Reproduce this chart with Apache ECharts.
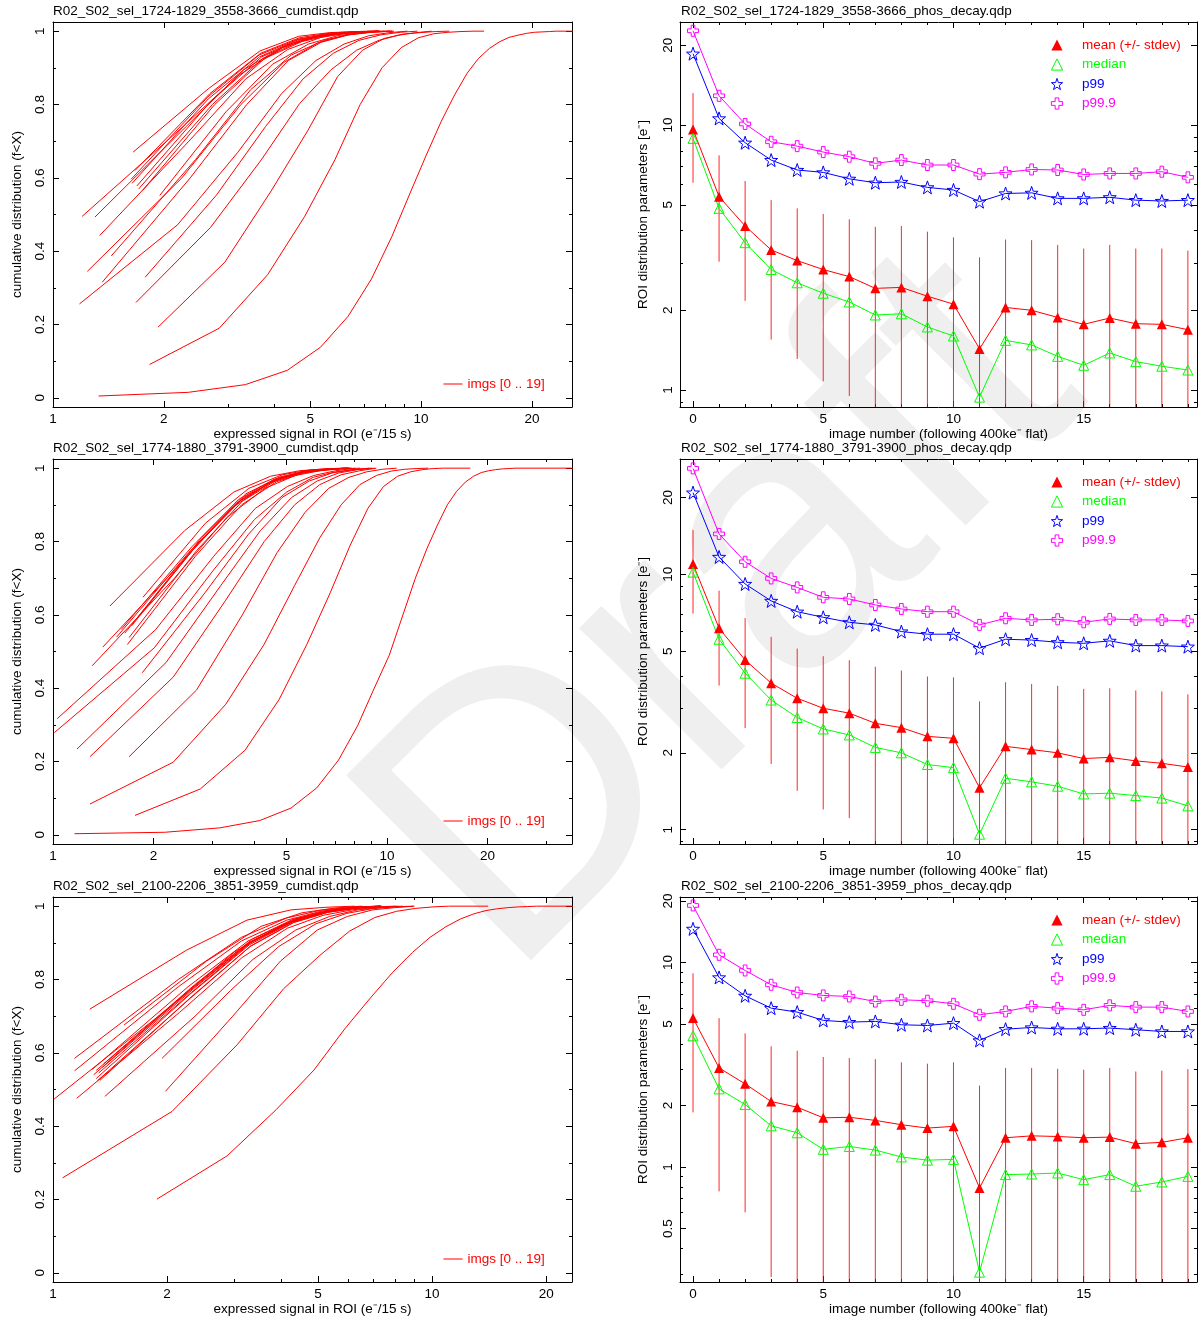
<!DOCTYPE html>
<html><head><meta charset="utf-8">
<script src="https://cdn.jsdelivr.net/npm/echarts@6/dist/echarts.min.js"></script>
<style>html,body{margin:0;padding:0;background:#fff}#c{width:1198px;height:1318px}</style>
</head><body><div id="c"></div>
<script>
// ---------------- titles / labels ----------------
const cumTitles = ['R02_S02_sel_1724-1829_3558-3666_cumdist.qdp','R02_S02_sel_1774-1880_3791-3900_cumdist.qdp','R02_S02_sel_2100-2206_3851-3959_cumdist.qdp'];
const decayTitles = ['R02_S02_sel_1724-1829_3558-3666_phos_decay.qdp','R02_S02_sel_1774-1880_3791-3900_phos_decay.qdp','R02_S02_sel_2100-2206_3851-3959_phos_decay.qdp'];
const cumLegendName = 'imgs [0 .. 19]';
const decayNames = ['mean (+/- stdev)','median','p99','p99.9'];

// ---------------- tick values ----------------
const cumXMajor = [1,2,5,10,20];
const cumXMinor = [3,4,6,7,8,9,30];
const cumYMajor = [0,0.2,0.4,0.6,0.8,1];
const cumYMinor = [0.1,0.3,0.5,0.7,0.9];
const decXMajor = [0,5,10,15];
const decXMinor = [1,2,3,4,6,7,8,9,11,12,13,14,16,17,18,19];
const decYMajor = [0.5,1,2,5,10,20];
const decYMinor = [0.3,0.4,0.6,0.7,0.8,0.9,3,4,6,7,8,9,30];

// ---------------- cumulative distributions (signal, fraction) ----------------
const cumCurvesA = [
 [[1.33,0.005],[2.33,0.015],[3.33,0.036],[4.33,0.075],[5.33,0.138],[6.33,0.222],[7.33,0.324],[8.33,0.44],[9.33,0.558],[10.33,0.662],[11.33,0.753],[12.33,0.826],[13.33,0.885],[14.33,0.926],[15.33,0.953],[16.33,0.971],[17.33,0.983],[18.33,0.989],[19.33,0.994],[20.33,0.997],[21.33,0.998],[22.33,0.999],[23.33,1],[26.33,1]],
 [[1.83,0.091],[2.83,0.19],[3.83,0.336],[4.83,0.495],[5.83,0.649],[6.83,0.80],[7.83,0.90],[8.83,0.955],[9.83,0.982],[10.83,0.993],[11.83,0.997],[12.83,0.999],[13.83,1],[14.83,1]],
 [[1.93,0.193],[2.93,0.37],[3.93,0.567],[4.93,0.73],[5.93,0.876],[6.93,0.948],[7.93,0.98],[8.93,0.992],[9.93,0.996],[10.93,0.999],[11.93,1]],
 [[1.68,0.26],[2.68,0.465],[3.68,0.649],[4.68,0.803],[5.68,0.894],[6.68,0.948],[7.68,0.975],[8.68,0.989],[9.68,0.996],[10.68,1]],
 [[1.18,0.256],[2.18,0.472],[3.18,0.67],[4.18,0.83],[5.18,0.92],[6.18,0.965],[7.18,0.987],[8.18,0.996],[9.18,1]],
 [[1.78,0.329],[2.78,0.553],[3.78,0.74],[4.78,0.87],[5.78,0.94],[6.78,0.975],[7.78,0.99],[8.78,0.997],[9.78,1]],
 [[1.36,0.315],[2.36,0.60],[3.36,0.80],[4.36,0.92],[5.36,0.97],[6.36,0.99],[7.36,0.997],[8.36,1]],
 [[1.24,0.345],[2.24,0.60],[3.24,0.80],[4.24,0.915],[5.24,0.968],[6.24,0.989],[7.24,0.997],[8.24,1]],
 [[1.44,0.387],[2.44,0.65],[3.44,0.84],[4.44,0.935],[5.44,0.975],[6.44,0.992],[7.44,0.998],[8.44,1]],
 [[1.34,0.443],[2.34,0.70],[3.34,0.87],[4.34,0.95],[5.34,0.983],[6.34,0.995],[7.34,0.999],[8.34,1]],
 [[1.20,0.495],[2.20,0.73],[3.20,0.88],[4.20,0.955],[5.20,0.985],[6.20,0.995],[7.20,0.999],[8.20,1]],
 [[1.30,0.493],[2.30,0.74],[3.30,0.895],[4.30,0.962],[5.30,0.988],[6.30,0.996],[7.30,1]],
 [[1.95,0.552],[2.95,0.78],[3.95,0.91],[4.95,0.965],[5.95,0.988],[6.95,0.996],[7.95,1]],
 [[1.75,0.565],[2.75,0.80],[3.75,0.925],[4.75,0.972],[5.75,0.99],[6.75,0.997],[7.75,1]],
 [[1.69,0.578],[2.69,0.81],[3.69,0.93],[4.69,0.976],[5.69,0.992],[6.69,0.998],[7.69,1]],
 [[1.63,0.596],[2.63,0.82],[3.63,0.935],[4.63,0.978],[5.63,0.993],[6.63,0.998],[7.63,1]],
 [[1.65,0.670],[2.65,0.844],[3.65,0.946],[4.65,0.986],[5.65,0.996],[6.65,0.999],[7.65,1]],
 [[1.64,0.585],[2.64,0.815],[3.64,0.93],[4.64,0.977],[5.64,0.992],[6.64,0.998],[7.64,1]],
 [[1.71,0.57],[2.71,0.80],[3.71,0.925],[4.71,0.974],[5.71,0.991],[6.71,0.997],[7.71,1]],
 [[1.67,0.62],[2.67,0.83],[3.67,0.94],[4.67,0.982],[5.67,0.995],[6.67,0.999],[7.67,1]]
];
const cumCurvesB = [
 [[1.16,0.003],[2.16,0.007],[3.16,0.019],[4.16,0.039],[5.16,0.073],[6.16,0.128],[7.16,0.204],[8.16,0.297],[9.16,0.40],[10.16,0.49],[11.16,0.60],[12.16,0.70],[13.16,0.78],[14.16,0.845],[15.16,0.90],[16.16,0.937],[17.16,0.962],[18.16,0.978],[19.16,0.988],[20.16,0.993],[21.16,0.996],[22.16,0.998],[23.16,0.999],[24.16,1],[36.16,1]],
 [[1.76,0.053],[2.76,0.125],[3.76,0.231],[4.76,0.37],[5.76,0.52],[6.76,0.66],[7.76,0.79],[8.76,0.89],[9.76,0.95],[10.76,0.978],[11.76,0.99],[12.76,0.996],[13.76,0.999],[14.76,1],[17.76,1]],
 [[1.29,0.084],[2.29,0.198],[3.29,0.356],[4.29,0.52],[5.29,0.68],[6.29,0.81],[7.29,0.90],[8.29,0.955],[9.29,0.98],[10.29,0.992],[11.29,0.997],[12.29,0.999],[13.29,1]],
 [[1.69,0.213],[2.69,0.395],[3.69,0.60],[4.69,0.77],[5.69,0.88],[6.69,0.945],[7.69,0.975],[8.69,0.99],[9.69,0.997],[10.69,1]],
 [[1.85,0.442],[2.85,0.66],[3.85,0.82],[4.85,0.92],[5.85,0.965],[6.85,0.987],[7.85,0.995],[8.85,1]],
 [[1.29,0.213],[2.29,0.43],[3.29,0.64],[4.29,0.80],[5.29,0.90],[6.29,0.955],[7.29,0.982],[8.29,0.993],[9.29,1]],
 [[1.18,0.234],[2.18,0.47],[3.18,0.68],[4.18,0.83],[5.18,0.92],[6.18,0.965],[7.18,0.987],[8.18,0.996],[9.18,1]],
 [[1.03,0.317],[2.03,0.56],[3.03,0.76],[4.03,0.89],[5.03,0.95],[6.03,0.98],[7.03,0.993],[8.03,1]],
 [[1.01,0.279],[2.01,0.51],[3.01,0.72],[4.01,0.86],[5.01,0.935],[6.01,0.975],[7.01,0.99],[8.01,0.997],[9.01,1]],
 [[1.31,0.461],[2.31,0.70],[3.31,0.865],[4.31,0.945],[5.31,0.98],[6.31,0.993],[7.31,0.998],[8.31,1]],
 [[1.41,0.512],[2.41,0.74],[3.41,0.89],[4.41,0.958],[5.41,0.985],[6.41,0.995],[7.41,1]],
 [[1.48,0.624],[2.48,0.83],[3.48,0.935],[4.48,0.978],[5.48,0.993],[6.48,0.998],[7.48,1]],
 [[1.86,0.648],[2.86,0.85],[3.86,0.945],[4.86,0.982],[5.86,0.995],[6.86,0.999],[7.86,1]],
 [[1.67,0.519],[2.67,0.76],[3.67,0.90],[4.67,0.963],[5.67,0.988],[6.67,0.996],[7.67,1]],
 [[1.69,0.538],[2.69,0.775],[3.69,0.91],[4.69,0.968],[5.69,0.99],[6.69,0.997],[7.69,1]],
 [[1.55,0.539],[2.55,0.77],[3.55,0.905],[4.55,0.965],[5.55,0.989],[6.55,0.997],[7.55,1]],
 [[1.60,0.56],[2.60,0.785],[3.60,0.915],[4.60,0.97],[5.60,0.99],[6.60,0.997],[7.60,1]],
 [[1.72,0.57],[2.72,0.795],[3.72,0.92],[4.72,0.972],[5.72,0.991],[6.72,0.998],[7.72,1]],
 [[1.64,0.55],[2.64,0.78],[3.64,0.912],[4.64,0.968],[5.64,0.99],[6.64,0.997],[7.64,1]],
 [[1.78,0.59],[2.78,0.81],[3.78,0.93],[4.78,0.976],[5.78,0.993],[6.78,0.998],[7.78,1]]
];
const cumCurvesC = [
 [[1.88,0.201],[2.88,0.319],[3.88,0.445],[4.88,0.553],[5.88,0.665],[6.88,0.75],[7.88,0.82],[8.88,0.874],[9.88,0.915],[10.88,0.944],[11.88,0.965],[12.88,0.979],[13.88,0.988],[14.88,0.993],[15.88,0.996],[16.88,0.998],[17.88,0.999],[18.88,1],[24.88,1]],
 [[1.06,0.259],[2.06,0.44],[3.06,0.622],[4.06,0.775],[5.06,0.866],[6.06,0.932],[7.06,0.969],[8.06,0.986],[9.06,0.994],[10.06,0.998],[11.06,1],[14.06,1]],
 [[1.98,0.495],[2.98,0.70],[3.98,0.85],[4.98,0.935],[5.98,0.972],[6.98,0.99],[7.98,0.996],[8.98,1]],
 [[1.94,0.585],[2.94,0.77],[3.94,0.89],[4.94,0.952],[5.94,0.98],[6.94,0.993],[7.94,0.998],[8.94,1]],
 [[1.37,0.481],[2.37,0.70],[3.37,0.855],[4.37,0.935],[5.37,0.972],[6.37,0.99],[7.37,0.997],[8.37,1]],
 [[1.155,0.476],[2.155,0.71],[3.155,0.86],[4.155,0.94],[5.155,0.975],[6.155,0.99],[7.155,0.997],[8.155,1]],
 [[1.007,0.474],[2.007,0.72],[3.007,0.875],[4.007,0.948],[5.007,0.98],[6.007,0.993],[7.007,0.998],[8.007,1]],
 [[1.31,0.524],[2.31,0.75],[3.31,0.89],[4.31,0.955],[5.31,0.983],[6.31,0.994],[7.31,1]],
 [[1.30,0.552],[2.30,0.77],[3.30,0.90],[4.30,0.96],[5.30,0.986],[6.30,0.995],[7.30,1]],
 [[1.14,0.551],[2.14,0.78],[3.14,0.905],[4.14,0.962],[5.14,0.987],[6.14,0.996],[7.14,1]],
 [[1.14,0.585],[2.14,0.80],[3.14,0.915],[4.14,0.968],[5.14,0.99],[6.14,0.997],[7.14,1]],
 [[1.25,0.719],[2.25,0.88],[3.25,0.962],[4.25,0.99],[5.25,0.997],[6.25,1]],
 [[1.54,0.676],[2.54,0.85],[3.54,0.945],[4.54,0.982],[5.54,0.995],[6.54,1]],
 [[1.30,0.53],[2.30,0.76],[3.30,0.895],[4.30,0.958],[5.30,0.985],[6.30,0.995],[7.30,1]],
 [[1.32,0.545],[2.32,0.765],[3.32,0.90],[4.32,0.96],[5.32,0.986],[6.32,0.996],[7.32,1]],
 [[1.35,0.56],[2.35,0.775],[3.35,0.905],[4.35,0.962],[5.35,0.987],[6.35,0.996],[7.35,1]],
 [[1.28,0.54],[2.28,0.77],[3.28,0.90],[4.28,0.96],[5.28,0.986],[6.28,0.996],[7.28,1]],
 [[1.33,0.525],[2.33,0.755],[3.33,0.892],[4.33,0.957],[5.33,0.984],[6.33,0.995],[7.33,1]],
 [[1.27,0.555],[2.27,0.78],[3.27,0.905],[4.27,0.963],[5.27,0.988],[6.27,0.997],[7.27,1]],
 [[1.36,0.57],[2.36,0.785],[3.36,0.91],[4.36,0.965],[5.36,0.988],[6.36,0.997],[7.36,1]]
];

// ---------------- phosphorescence decay ----------------
const imageNumbers = [0,1,2,3,4,5,6,7,8,9,10,11,12,13,14,15,16,17,18,19];
const meanA   = [9.63,5.37,4.16,3.38,3.08,2.85,2.68,2.42,2.44,2.26,2.11,1.43,2.05,2.00,1.88,1.77,1.87,1.78,1.77,1.69];
const stdevA  = [3.57,2.32,1.99,1.83,1.77,1.77,1.73,1.71,1.72,1.70,1.66,1.74,1.65,1.68,1.65,1.65,1.66,1.64,1.65,1.67];
const medianA = [8.91,4.85,3.60,2.85,2.54,2.32,2.15,1.92,1.94,1.73,1.60,0.94,1.54,1.48,1.34,1.24,1.38,1.28,1.23,1.19];
const p99A    = [18.6,10.6,8.58,7.38,6.77,6.63,6.27,6.06,6.10,5.82,5.69,5.14,5.52,5.55,5.29,5.29,5.34,5.21,5.17,5.21];
const p999A   = [22.7,12.9,10.1,8.65,8.33,7.91,7.60,7.17,7.38,7.07,7.07,6.53,6.63,6.80,6.77,6.51,6.57,6.57,6.67,6.35];

const meanB   = [10.97,6.15,4.62,3.75,3.27,2.99,2.86,2.61,2.51,2.32,2.28,1.46,2.12,2.06,2.00,1.90,1.92,1.86,1.82,1.76];
const stdevB  = [3.95,2.48,2.12,1.94,1.85,1.79,1.75,1.74,1.69,1.66,1.67,1.72,1.66,1.66,1.66,1.66,1.66,1.65,1.66,1.63];
const medianB = [10.2,5.57,4.10,3.22,2.75,2.48,2.35,2.10,2.00,1.80,1.75,0.96,1.59,1.54,1.48,1.38,1.39,1.36,1.33,1.24];
const p99B    = [20.9,11.7,9.17,7.87,7.14,6.79,6.49,6.34,5.97,5.83,5.83,5.14,5.57,5.53,5.42,5.37,5.49,5.26,5.26,5.21];
const p999B   = [26.0,14.4,11.2,9.64,8.89,8.13,8.01,7.59,7.32,7.14,7.14,6.34,6.73,6.63,6.67,6.49,6.69,6.63,6.63,6.57];

const meanC   = [5.35,3.05,2.55,2.09,1.96,1.74,1.75,1.69,1.61,1.55,1.58,0.79,1.39,1.42,1.41,1.39,1.40,1.30,1.32,1.39];
const stdevC  = [3.50,2.29,1.95,1.80,1.74,1.71,1.66,1.68,1.64,1.65,1.67,1.71,1.66,1.63,1.61,1.60,1.65,1.63,1.64,1.62];
const medianC = [4.38,2.41,2.02,1.59,1.47,1.22,1.26,1.21,1.12,1.08,1.09,0.306,0.918,0.924,0.935,0.867,0.918,0.805,0.845,0.90];
const p99C    = [14.6,8.45,6.87,5.98,5.72,5.21,5.11,5.15,4.96,4.92,5.05,4.16,4.72,4.81,4.74,4.74,4.78,4.69,4.60,4.60];
const p999C   = [19.0,10.9,9.14,7.78,7.13,6.90,6.82,6.44,6.57,6.50,6.28,5.55,5.76,6.10,5.98,5.87,6.17,6.05,6.05,5.76];

// ---------------- layout / style ----------------
const FONT = '"Liberation Sans", Arial, Helvetica, sans-serif';
const FS = 13.5;
const rowTop = [22, 459, 897];
const plotH = 385;
const leftX = 53, leftW = 519, rightX = 680, rightW = 517;
const cumXMax = [25.7, 35.8, 23.4];
const cumYRange = [-0.025, 1.025];
const decXRange = [-0.5, 19.35];
const decYRange = [[0.863, 24.5], [0.879, 28.3], [0.274, 20.9]];
const RED = '#ff0000', GREEN = '#00ff00', BLUE = '#0000ff', MAGENTA = '#ff00ff';
const HOLLOW = 'rgba(255,255,255,0)';
const STAR = 'path://M0,-10L2.35,-3.24L9.51,-3.09L3.8,1.24L5.88,8.09L0,4L-5.88,8.09L-3.8,1.24L-9.51,-3.09L-2.35,-3.24Z';
const CROSS = 'path://M-1,-3L1,-3L1,-1L3,-1L3,1L1,1L1,3L-1,3L-1,1L-3,1L-3,-1L-1,-1Z';

const cumSets = [cumCurvesA, cumCurvesB, cumCurvesC];
const decaySets = [
  {mean: meanA, sd: stdevA, median: medianA, p99: p99A, p999: p999A},
  {mean: meanB, sd: stdevB, median: medianB, p99: p99B, p999: p999B},
  {mean: meanC, sd: stdevC, median: medianC, p99: p99C, p999: p999C}
];

function axisSet(dim, g, type, min, max, majors, minors, name, nameGap, labelMargin, rot) {
  const main = dim === 'x' ? 'bottom' : 'left';
  const mirror = dim === 'x' ? 'top' : 'right';
  const inR = v => v >= min && v <= max;
  const maj = majors.filter(inR), mnr = minors.filter(inR);
  const base = {gridIndex: g, type: type, min: min, max: max, splitLine: {show: false}, silent: true};
  if (type === 'log') base.logBase = 10;
  const line = {show: true, onZero: false, lineStyle: {color: '#000', width: 1}};
  const noLine = {show: false, onZero: false};
  const ts = {color: '#000', width: 1};
  return [
    Object.assign({}, base, {position: main, axisLine: line,
      axisTick: {show: true, inside: true, length: 6, customValues: maj, lineStyle: ts},
      axisLabel: {show: true, customValues: maj, formatter: v => String(v), margin: labelMargin, rotate: rot,
        fontSize: FS, color: '#000', fontFamily: FONT},
      name: name, nameLocation: 'middle', nameGap: nameGap,
      nameTextStyle: {fontSize: FS, color: '#000', fontFamily: FONT}}),
    Object.assign({}, base, {position: mirror, axisLine: line,
      axisTick: {show: true, inside: true, length: 6, customValues: maj, lineStyle: ts}, axisLabel: {show: false}}),
    Object.assign({}, base, {position: main, axisLine: noLine,
      axisTick: {show: true, inside: true, length: 3, customValues: mnr, lineStyle: ts}, axisLabel: {show: false}}),
    Object.assign({}, base, {position: mirror, axisLine: noLine,
      axisTick: {show: true, inside: true, length: 3, customValues: mnr, lineStyle: ts}, axisLabel: {show: false}})
  ];
}

const grids = [], xAxes = [], yAxes = [], series = [], titles = [], legends = [];

for (let p = 0; p < 3; p++) {
  const gL = 2 * p, gR = 2 * p + 1;
  grids.push({left: leftX, top: rowTop[p], width: leftW, height: plotH, containLabel: false, outerBoundsMode: 'none'});
  grids.push({left: rightX, top: rowTop[p], width: rightW, height: plotH, containLabel: false, outerBoundsMode: 'none'});

  xAxes.push(...axisSet('x', gL, 'log', 1, cumXMax[p], cumXMajor, cumXMinor, 'expressed signal in ROI (e\u207B/15 s)', 19, 5, 0));
  yAxes.push(...axisSet('y', gL, 'value', cumYRange[0], cumYRange[1], cumYMajor, cumYMinor, 'cumulative distribution (f<X)', 29, 6, 90));
  xAxes.push(...axisSet('x', gR, 'value', decXRange[0], decXRange[1], decXMajor, decXMinor, 'image number (following 400ke\u207B flat)', 19, 5, 0));
  yAxes.push(...axisSet('y', gR, 'log', decYRange[p][0], decYRange[p][1], decYMajor, decYMinor, 'ROI distribution parameters [e\u207B]', 30, 5, 90));

  titles.push({text: cumTitles[p], left: leftX, top: rowTop[p] - 18, padding: 0,
    textStyle: {fontSize: FS, fontWeight: 'normal', color: '#000', fontFamily: FONT}});
  titles.push({text: decayTitles[p], left: rightX + 1, top: rowTop[p] - 18, padding: 0,
    textStyle: {fontSize: FS, fontWeight: 'normal', color: '#000', fontFamily: FONT}});

  cumSets[p].forEach(curve => {
    series.push({type: 'line', name: cumLegendName, xAxisIndex: 4 * gL, yAxisIndex: 4 * gL,
      data: curve, symbol: 'none', clip: true, silent: true,
      lineStyle: {color: RED, width: 1}, itemStyle: {color: RED}, z: 2});
  });
  legends.push({data: [cumLegendName], left: 443, top: rowTop[p] + 355, padding: 0,
    itemWidth: 19, itemHeight: 12, selectedMode: false,
    itemStyle: {opacity: 0}, lineStyle: {width: 1, color: RED},
    textStyle: {color: RED, fontSize: FS, fontFamily: FONT}});

  const d = decaySets[p];
  const yMin = decYRange[p][0];
  const xi = 4 * gR;
  series.push({type: 'custom', name: 'stdev', xAxisIndex: xi, yAxisIndex: xi, clip: true, silent: true, z: 1,
    data: imageNumbers.map((n, i) => [n, d.mean[i], d.sd[i]]),
    encode: {x: 0, y: 1},
    renderItem: (params, api) => {
      const x = api.value(0), m = api.value(1), s = api.value(2);
      const lo = Math.max(m - s, yMin);
      const a = api.coord([x, m + s]), b = api.coord([x, lo]);
      return {type: 'line', shape: {x1: a[0], y1: a[1], x2: b[0], y2: b[1]},
        style: {stroke: RED, lineWidth: 1, opacity: 0.85}};
    }});
  const mk = (name, vals, color, symbol, size, filled) => ({
    type: 'line', name: name, xAxisIndex: xi, yAxisIndex: xi, clip: true, silent: true, z: 3,
    data: imageNumbers.map((n, i) => [n, vals[i]]),
    symbol: symbol, symbolSize: size, showAllSymbol: true,
    lineStyle: {color: color, width: 1},
    itemStyle: filled ? {color: color} : {color: HOLLOW, borderColor: color, borderWidth: 1}
  });
  series.push(mk(decayNames[0], d.mean, RED, 'triangle', 10, true));
  series.push(mk(decayNames[1], d.median, GREEN, 'triangle', 10, false));
  series.push(mk(decayNames[2], d.p99, BLUE, STAR, 13, false));
  series.push(mk(decayNames[3], d.p999, MAGENTA, CROSS, 11, false));
  legends.push({orient: 'vertical', left: 1037, top: rowTop[p] + 16, padding: 0,
    itemWidth: 40, itemHeight: 14, itemGap: 5.5, selectedMode: false,
    lineStyle: {width: 0, opacity: 0},
    data: [
      {name: decayNames[0], textStyle: {color: RED}, itemStyle: {color: RED}},
      {name: decayNames[1], textStyle: {color: GREEN}, itemStyle: {color: HOLLOW, borderColor: GREEN, borderWidth: 1}},
      {name: decayNames[2], textStyle: {color: BLUE}, itemStyle: {color: HOLLOW, borderColor: BLUE, borderWidth: 1}},
      {name: decayNames[3], textStyle: {color: MAGENTA}, itemStyle: {color: HOLLOW, borderColor: MAGENTA, borderWidth: 1}}
    ],
    textStyle: {fontSize: FS, fontFamily: FONT}});
}

const chart = echarts.init(document.getElementById('c'), null, {renderer: 'canvas'});
chart.setOption({
  backgroundColor: '#ffffff',
  animation: false,
  title: titles,
  legend: legends,
  grid: grids,
  xAxis: xAxes,
  yAxis: yAxes,
  series: series,
  graphic: {elements: [{
    type: 'text', x: 726, y: 617, rotation: Math.PI / 4, z: -10, silent: true,
    style: {text: 'Draft', fontSize: 380, fontFamily: FONT, fill: '#efefef',
      align: 'center', verticalAlign: 'middle', textAlign: 'center', textVerticalAlign: 'middle'}
  }]}
});
</script></body></html>
